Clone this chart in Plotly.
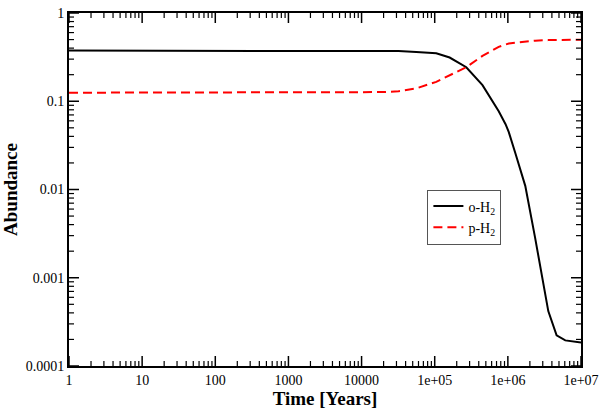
import plotly.graph_objects as go

# Data (time in years, abundances)
time_years = [1, 10, 100, 1000, 1e4, 2e4, 3.2e4, 5.6e4, 1.05e5, 1.6e5, 2.7e5, 4.5e5,
              6.8e5, 7.5e5, 9.3e5, 1.03e6, 1.27e6, 1.73e6, 2.36e6, 3.57e6, 4.64e6, 6.1e6, 1e7]
ortho_h2 = [0.375, 0.375, 0.375, 0.375, 0.374, 0.373, 0.370, 0.361, 0.350, 0.313, 0.243, 0.152,
            0.0877, 0.0772, 0.055, 0.0446, 0.0256, 0.011, 0.00283, 4.19e-4, 2.22e-4, 1.95e-4, 1.84e-4]
para_h2 = [0.125, 0.125, 0.125, 0.125, 0.126, 0.127, 0.130, 0.140, 0.166, 0.196, 0.243, 0.327,
           0.390, 0.414, 0.440, 0.450, 0.460, 0.476, 0.486, 0.493, 0.495, 0.497, 0.498]

x_tickvals = [1, 10, 100, 1000, 10000, 1e5, 1e6, 1e7]
x_ticktext = ["1", "10", "100", "1000", "10000", "1e+05", "1e+06", "1e+07"]
y_tickvals = [1e-4, 1e-3, 1e-2, 1e-1, 1]
y_ticktext = ["0.0001", "0.001", "0.01", "0.1", "1"]

x_minor = [m * 10 ** d for d in range(0, 7) for m in range(2, 10)]
y_minor = [m * 10 ** d for d in range(-4, 0) for m in range(2, 10)]

FONT = "Liberation Serif, Times New Roman, serif"

fig = go.Figure()
fig.add_trace(go.Scatter(x=time_years, y=ortho_h2, mode="lines", name="o-H<sub>2</sub>",
                         line=dict(color="black", width=2)))
fig.add_trace(go.Scatter(x=time_years, y=para_h2, mode="lines", name="p-H<sub>2</sub>",
                         line=dict(color="#ff0000", width=2, dash="9px,5px")))

base = dict(type="log", showgrid=False, zeroline=False, showline=True, linecolor="black",
            linewidth=2, mirror=True, ticks="", ticklabeloverflow="allow")

fig.update_layout(
    xaxis=dict(range=[0, 7], tickmode="array", tickvals=x_tickvals, ticktext=x_ticktext,
               tickfont=dict(family=FONT, size=14, color="black"),
               title=dict(text="<b>Time [Years]</b>", font=dict(family=FONT, size=19, color="black"),
                          standoff=4),
               **base),
    yaxis=dict(range=[-4, 0], tickmode="array", tickvals=y_tickvals, ticktext=y_ticktext,
               tickfont=dict(family=FONT, size=14, color="black"),
               title=dict(text="<b>Abundance</b>", font=dict(family=FONT, size=19, color="black"),
                          standoff=6),
               **base),
)

# inside tick marks on all four sides, built from the tick value lists
def tick_shapes():
    shapes = []
    for vals, length, width in [(x_tickvals, 10, 1.5), (x_minor, 5, 1.2)]:
        for v in vals:
            for anchor, sign in [(0, 1), (1, -1)]:
                shapes.append(dict(type="line", xref="x", yref="paper", x0=v, x1=v,
                                   ysizemode="pixel", yanchor=anchor, y0=0, y1=sign * length,
                                   line=dict(color="black", width=width), layer="above"))
    for vals, length, width in [(y_tickvals, 10, 1.5), (y_minor, 5, 1.2)]:
        for v in vals:
            for anchor, sign in [(0, 1), (1, -1)]:
                shapes.append(dict(type="line", xref="paper", yref="y", y0=v, y1=v,
                                   xsizemode="pixel", xanchor=anchor, x0=0, x1=sign * length,
                                   line=dict(color="black", width=width), layer="above"))
    return shapes

fig.update_layout(
    shapes=tick_shapes(),
    width=605, height=411,
    margin=dict(l=69, r=19, t=6, b=43),
    plot_bgcolor="white", paper_bgcolor="white",
    font=dict(family=FONT, size=13, color="black"),
    legend=dict(x=0.70, y=0.50, xanchor="left", yanchor="top",
                bordercolor="#555555", borderwidth=1, bgcolor="white",
                font=dict(family=FONT, size=14, color="black"),
                tracegroupgap=0, itemwidth=30),
    showlegend=True,
)

fig.write_html("out.html", config={"displayModeBar": False},
               post_script="document.body.style.margin='0px';document.body.style.padding='0px';")
